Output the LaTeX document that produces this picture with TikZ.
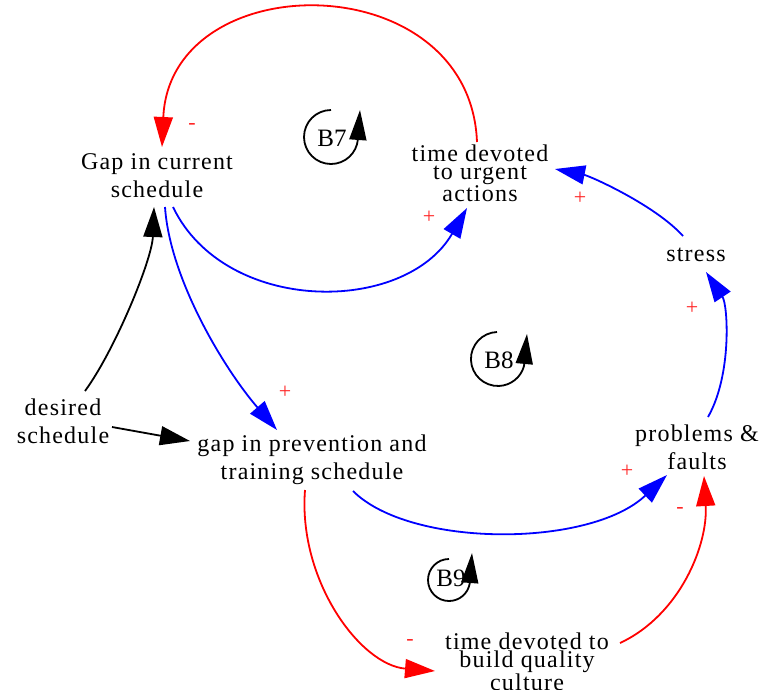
\documentclass[tikz,border=0pt]{standalone}
\usepackage{fontspec}
\setmainfont{Liberation Serif}
\newfontfamily\lblfont[LetterSpace=5]{Liberation Serif}
\usetikzlibrary{arrows.meta,calc}
\tikzset{
  x=1pt,y=1pt,
  lbl/.style={font=\lblfont\fontsize{24}{28}\selectfont, align=center, inner sep=0pt},
  tightlbl/.style={font=\lblfont\fontsize{24}{18}\selectfont, align=center, inner sep=0pt},
  looplbl/.style={font=\fontsize{25}{25}\selectfont, inner sep=0pt},
  sign/.style={font=\fontsize{22}{22}\selectfont, text=red!85, inner sep=0pt},
  conn/.style={line width=1.8pt, -{Triangle[length=30pt,width=19pt]}},
  blueconn/.style={conn, draw=blue},
  redconn/.style={conn, draw=red},
  blackconn/.style={conn, draw=black},
  loopline/.style={line width=1.8pt, -{Triangle[length=30pt,width=17pt]}},
}
\begin{document}
\begin{tikzpicture}
\path[use as bounding box] (0,0) rectangle (763,-689);

% variables
\node[lbl] (gapcur) at (157,-176) {Gap in current\\schedule};
\node[tightlbl] (urgent) at (480,-173) {time devoted\\to urgent\\actions};
\node[lbl] (stress) at (696,-255) {stress};
\node[lbl] (probs) at (697,-447) {problems \&\\faults};
\node[lbl] (gapprev) at (312,-460) {gap in prevention and\\training schedule};
\node[lbl] (desired) at (63,-421) {desired\\schedule};
\node[tightlbl] (quality) at (527,-662) {time devoted to\\build quality\\culture};

% loop markers
\node[looplbl] (b7) at (332,-138) {B7};
\draw[loopline] (331,-110) arc[start angle=90, end angle=355, radius=27] -- (360,-110);
\node[looplbl] (b8) at (499,-360) {B8};
\draw[loopline] (497,-332) arc[start angle=92, end angle=345, radius=27] -- (527,-334);
\node[looplbl] (b9) at (451,-578) {B9};
\draw[loopline] (449,-559) arc[start angle=90, end angle=350, radius=21] -- (472,-553);

% connectors
\draw[redconn] ($(urgent)+(-3,31)$) .. controls (470,36) and (170,36) .. ($(gapcur)+(5,29)$);
\draw[blueconn] ($(gapcur)+(16,-31)$) .. controls (225,-315) and (405,-315) .. ($(urgent)+(-13,-35)$);
\draw[blueconn] ($(stress)+(-13,19)$) .. controls (655,-205) and (590,-176) .. ($(urgent)+(75,4)$);
\draw[blueconn] ($(probs)+(11,30)$) .. controls (732,-375) and (728,-305) .. ($(stress)+(10,-17)$);
\draw[blueconn] ($(gapcur)+(8,-31)$) .. controls (170,-280) and (225,-370) .. ($(gapprev)+(-35,30)$);
\draw[blackconn] ($(desired)+(22,30)$) .. controls (115,-350) and (152,-260) .. ($(gapcur)+(-3,-31)$);
\draw[blackconn] ($(desired)+(49,-6)$) -- ($(gapprev)+(-122,19)$);
\draw[blueconn] ($(gapprev)+(41,-31)$) .. controls (410,-548) and (590,-548) .. ($(probs)+(-30,-28)$);
\draw[redconn] ($(gapprev)+(-7,-30)$) .. controls (298,-580) and (360,-665) .. ($(quality)+(-92,-9)$);
\draw[redconn] ($(quality)+(93,19)$) .. controls (680,-615) and (708,-545) .. ($(probs)+(7,-29)$);

% polarity signs
\node[sign] (s1) at (192,-126) {-};
\node[sign] (s2) at (429,-217) {+};
\node[sign] (s3) at (580,-198) {+};
\node[sign] (s4) at (692,-308) {+};
\node[sign] (s5) at (285,-392) {+};
\node[sign] (s6) at (627,-471) {+};
\node[sign] (s7) at (410,-642) {-};
\node[sign] (s8) at (680,-510) {-};
\end{tikzpicture}
\end{document}
